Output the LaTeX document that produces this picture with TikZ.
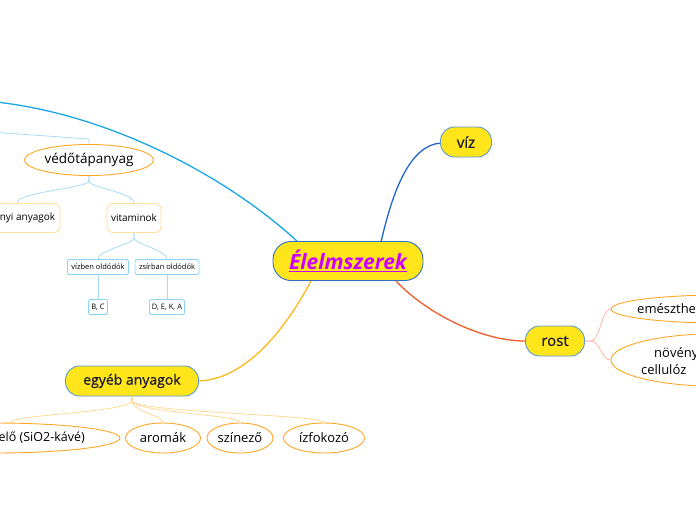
\documentclass[tikz,border=0pt]{standalone}
\usepackage{fontspec}
\setmainfont{Open Sans}
\newfontfamily\medf{Open Sans}[FakeBold=0.7]
\usetikzlibrary{shapes.geometric}
\definecolor{ylw}{HTML}{FFE51A}
\definecolor{ybord}{HTML}{5A9BD0}
\definecolor{cbord}{HTML}{2F6FBF}
\definecolor{navy}{HTML}{1B1B3A}
\definecolor{purp}{HTML}{CC00FF}
\definecolor{orb}{HTML}{FFA625}
\definecolor{lyb}{HTML}{FFE19A}
\definecolor{lbb}{HTML}{8CD2F4}
\definecolor{cviz}{HTML}{1F66D0}
\definecolor{crost}{HTML}{F25A2A}
\definecolor{cegy}{HTML}{FFB81A}
\definecolor{cbig}{HTML}{1AA6E6}
\definecolor{lbline}{HTML}{A6DAF5}
\definecolor{loline}{HTML}{FFD68A}
\definecolor{lsline}{HTML}{FFB3A0}
\tikzset{
  pill/.style={draw=ybord, line width=0.9pt, fill=ylw, rounded corners=14pt, inner sep=0pt, text=navy, font=\medf\fontsize{15}{17}\selectfont},
  oval/.style={ellipse, draw=orb, line width=0.9pt, fill=white, inner sep=0pt, font=\fontsize{13}{16}\selectfont},
  ybox/.style={draw=lyb, line width=0.9pt, fill=white, rounded corners=6pt, inner sep=0pt, font=\fontsize{10}{12}\selectfont},
  bbox/.style={draw=lbb, line width=0.9pt, fill=white, rounded corners=2pt, inner sep=0pt, font=\fontsize{7.5}{9}\selectfont},
  plain/.style={inner sep=0pt, font=\fontsize{13}{16}\selectfont},
  lb/.style={draw=lbline, line width=0.8pt},
  lo/.style={draw=loline, line width=0.7pt},
  ls/.style={draw=lsline, line width=0.8pt},
}
\begin{document}
\begin{tikzpicture}[x=1pt,y=-1pt]
\useasboundingbox (0,0) rectangle (696,520);
% free ends
\coordinate (tl) at (-30,100);
\coordinate (tl2) at (-10,132);
\coordinate (bend) at (89,139);
% connectors (drawn first)
\draw[cbig, line width=1.3pt] (298,242) .. controls (220,170) and (90,105) .. (tl);
\draw[lb] (tl2) -- (bend) -- (89,145);
\draw[cviz, line width=1.3pt] (381,242) .. controls (393,190) and (410,145) .. (441,143);
\draw[crost, line width=1.3pt] (396,281) .. controls (425,312) and (480,341) .. (525,341);
\draw[cegy, line width=1.3pt] (311,281) .. controls (285,330) and (245,380) .. (198,381);
% main nodes
\node[pill, rounded corners=18pt, draw=cbord, minimum width=150pt, minimum height=39pt, text=purp, font=\fontsize{21}{24}\selectfont\bfseries\itshape] (elel) at (348,261) {\underline{Élelmszerek}};
\node[pill, minimum width=51pt, minimum height=30pt] (viz) at (466,142) {víz};
\node[pill, minimum width=59pt, minimum height=30pt] (rost) at (555,341) {rost};
\node[pill, minimum width=133pt, minimum height=30pt, font=\medf\fontsize{14}{16}\selectfont] (egyeb) at (132,381) {egyéb anyagok};
% vedotapanyag subtree
\node[oval, minimum width=129pt, minimum height=31pt, font=\fontsize{13.5}{16}\selectfont] (vedo) at (89,160) {védőtápanyag};
\node[ybox, minimum width=86pt, minimum height=29pt] (asv) at (17,218) {ásványi anyagok};
\node[ybox, minimum width=54pt, minimum height=29pt] (vit) at (134,218) {vitaminok};
\node[bbox, minimum width=61pt, minimum height=15pt] (vizb) at (98,267) {vízben oldódók};
\node[bbox, minimum width=64pt, minimum height=15pt] (zsir) at (167,267) {zsírban oldódók};
\node[bbox, minimum width=19pt, minimum height=15pt] (bc) at (98,307) {B, C};
\node[bbox, minimum width=35pt, minimum height=15pt] (deka) at (167,307) {D, E, K, A};
\draw[lb] (vedo.south) -- ++(0,5) .. controls +(0,7) and +(0,-11) .. (asv.north);
\draw[lb] (vedo.south) -- ++(0,5) .. controls +(0,7) and +(0,-11) .. (vit.north);
\draw[lb] (vit.south) -- ++(0,5) .. controls +(0,6) and +(0,-9) .. (vizb.north);
\draw[lb] (vit.south) -- ++(0,5) .. controls +(0,6) and +(0,-9) .. (zsir.north);
\draw[lb] (vizb.south) -- (bc.north);
\draw[lb] (zsir.south) -- (deka.north);
% egyeb subtree
\node[oval, minimum width=250pt, minimum height=30pt] (sio) at (-5,438) {};
\node[plain, anchor=east, font=\fontsize{12.5}{16}\selectfont] (siot) at (85,438) {térfogatnövelő (SiO2-kávé)};
\node[oval, minimum width=75pt, minimum height=30pt] (aroma) at (163,438) {aromák};
\node[oval, minimum width=66pt, minimum height=30pt] (szin) at (240,438) {színező};
\node[oval, minimum width=81pt, minimum height=30pt] (izf) at (324,438) {ízfokozó};
\draw[lo] (egyeb.south) -- ++(0,4) .. controls +(0,12) and +(0,-8) .. ([xshift=15pt]sio.north);
\draw[lo] (egyeb.south) -- ++(0,4) .. controls +(0,12) and +(0,-8) .. (aroma.north);
\draw[lo] (egyeb.south) -- ++(0,4) .. controls +(0,12) and +(0,-8) .. (szin.north);
\draw[lo] (egyeb.south) -- ++(0,4) .. controls +(0,12) and +(0,-8) .. (izf.north);
% rost subtree
\node[oval, minimum width=220pt, minimum height=28pt] (emesz) at (721,309) {};
\node[plain, anchor=west] (emeszt) at (637,309) {emészthető};
\node[oval, minimum width=220pt, minimum height=53pt] (nov) at (721,360) {};
\node[plain, anchor=west] (novt) at (654,354) {növényi};
\node[plain, anchor=west] (cellt) at (641,370) {cellulóz};
\draw[ls] (rost.east) -- ++(6,0) .. controls +(9,0) and +(-9,0) .. (emesz.west);
\draw[ls] (rost.east) -- ++(6,0) .. controls +(9,0) and +(-9,0) .. (nov.west);
\end{tikzpicture}
\end{document}
